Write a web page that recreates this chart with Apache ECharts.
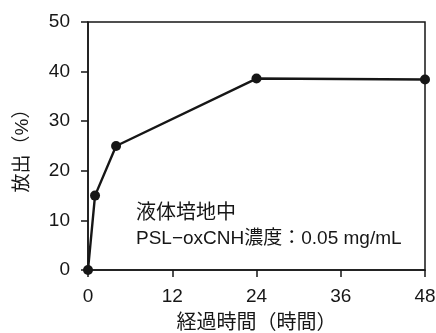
<!DOCTYPE html>
<html><head><meta charset="utf-8">
<script src="https://cdn.jsdelivr.net/npm/echarts@6/dist/echarts.min.js"></script>
<style>html,body{margin:0;padding:0;background:#fff}#c{width:436px;height:333px}</style>
</head><body><div id="c"></div>
<script>
const hours = [0, 1, 4, 24, 48];
const release = [0, 15, 25, 38.6, 38.4];
const xTicks = [0, 12, 24, 36, 48];
const yTicks = [0, 10, 20, 30, 40, 50];
const xName = '経過時間（時間）';
const yName = '放出（%）';
const note1 = '液体培地中';
const note2 = 'PSL−oxCNH濃度：0.05 mg/mL';

const FONT = '"Liberation Sans", "Noto Sans CJK JP", sans-serif';
const INK = '#161616';
const chart = echarts.init(document.getElementById('c'));
chart.setOption({
  animation: false,
  backgroundColor: '#fff',
  grid: {left: 88, right: 11, top: 22, bottom: 63, show: true, borderColor: INK, borderWidth: 1.5, outerBoundsMode: 'none', containLabel: false},
  xAxis: {
    type: 'value', min: 0, max: 48, interval: 12,
    name: xName, nameLocation: 'middle', nameGap: 43,
    nameTextStyle: {fontSize: 20, color: INK, fontFamily: FONT},
    axisLine: {show: true, lineStyle: {color: INK, width: 1.5}},
    axisTick: {show: true, inside: false, length: 7, lineStyle: {color: INK, width: 1.5}},
    axisLabel: {fontSize: 19, color: INK, margin: 17, fontFamily: FONT},
    splitLine: {show: false}
  },
  yAxis: {
    type: 'value', min: 0, max: 50, interval: 10,
    name: yName, nameLocation: 'middle', nameGap: 56, nameRotate: 90,
    nameTextStyle: {fontSize: 19, color: INK, fontFamily: FONT},
    axisLine: {show: true, lineStyle: {color: INK, width: 1.5}},
    axisTick: {show: true, inside: false, length: 7, lineStyle: {color: INK, width: 1.5}},
    axisLabel: {fontSize: 19, color: INK, margin: 18, fontFamily: FONT},
    splitLine: {show: false}
  },
  series: [{
    type: 'line',
    data: hours.map((h, i) => [h, release[i]]),
    symbol: 'circle', symbolSize: 10,
    lineStyle: {color: INK, width: 2.4},
    itemStyle: {color: INK},
    clip: false
  }],
  graphic: [
    {type: 'text', left: 136, top: 203, style: {text: note1, fill: INK, font: '20px ' + FONT}},
    {type: 'text', left: 136, top: 229, style: {text: note2, fill: INK, font: '19px ' + FONT}}
  ]
});
</script></body></html>
